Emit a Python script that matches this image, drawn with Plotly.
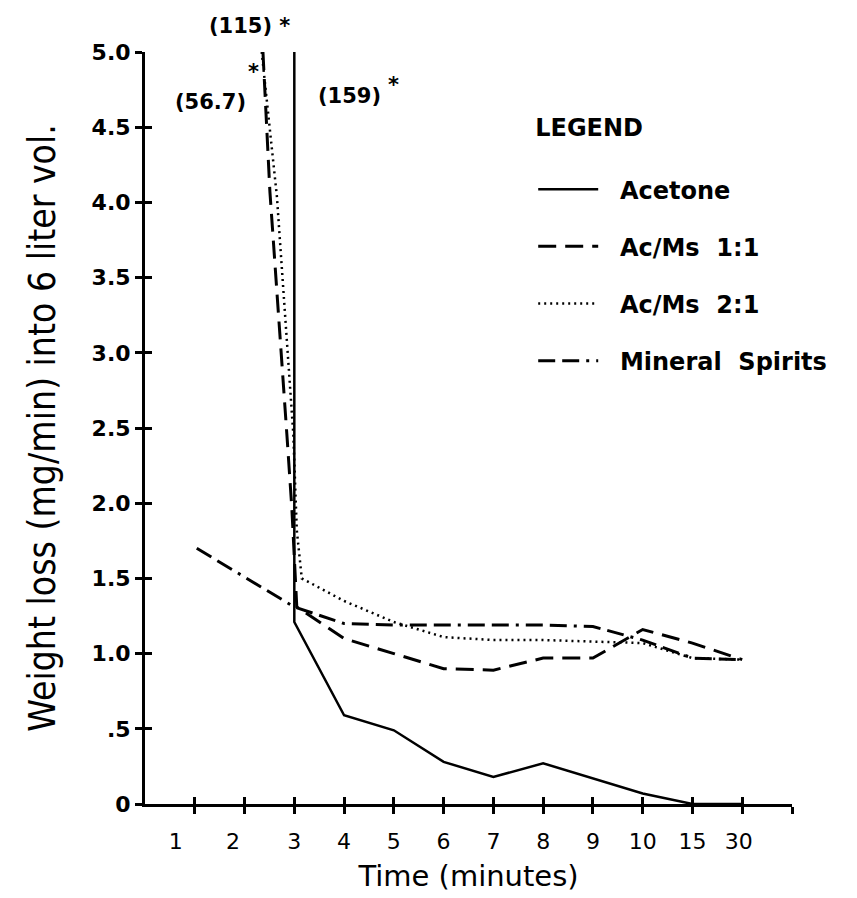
import plotly.graph_objects as go

# ---------------- data ----------------
# x positions are category indices of the time axis: 1 -> "1", ..., 11 -> "15", 12 -> "30"
time_labels = ["1", "2", "3", "4", "5", "6", "7", "8", "9", "10", "15", "30"]

acetone_x = [3, 3, 4, 5, 6, 7, 8, 9, 10, 11, 12]
acetone_y = [159, 1.21, 0.59, 0.49, 0.28, 0.18, 0.27, 0.17, 0.07, 0.0, 0.0]

acms11_x = [2.37, 2.51, 2.85, 2.95, 3.05, 4, 5, 6, 7, 8, 9, 10, 11, 12]
acms11_y = [5.0, 4.07, 2.46, 1.97, 1.31, 1.1, 1.0, 0.9, 0.89, 0.97, 0.97, 1.16, 1.07, 0.96]

acms21_x = [2.345, 2.65, 2.98, 3.05, 3.15, 4, 5, 6, 7, 8, 9, 10, 11, 12]
acms21_y = [5.0, 4.04, 2.46, 1.82, 1.5, 1.35, 1.21, 1.11, 1.09, 1.09, 1.08, 1.07, 0.97, 0.96]

ms_x = [1.04, 2, 3, 4, 5, 6, 7, 8, 9, 10, 11, 12]
ms_y = [1.7, 1.51, 1.31, 1.2, 1.19, 1.19, 1.19, 1.19, 1.18, 1.09, 0.97, 0.96]

y_tick_vals = [0, 0.5, 1.0, 1.5, 2.0, 2.5, 3.0, 3.5, 4.0, 4.5, 5.0]
y_tick_text = ["0", ".5", "1.0", "1.5", "2.0", "2.5", "3.0", "3.5", "4.0", "4.5", "5.0"]

# ---------------- styling ----------------
label_shift = [-0.38, -0.23, 0, 0, 0, 0, 0, 0, 0, 0, 0, -0.07]
tick_positions = list(range(1, len(time_labels) + 2))
label_positions = [i + 1 + s for i, s in enumerate(label_shift)]

GEO = "DejaVu Sans"
NARROW = "DejaVu Sans Condensed, Liberation Sans, sans-serif"
PAD = "\u00a0\u00a0"

fig = go.Figure()

fig.add_trace(go.Scatter(x=acetone_x, y=acetone_y, mode="lines", name=PAD + "Acetone",
                         legendgroup="a", line=dict(color="black", width=2.5)))
fig.add_trace(go.Scatter(x=acms11_x, y=acms11_y, mode="lines",
                         name=PAD + "Ac/Ms\u00a0\u00a01:1",
                         legendgroup="b", line=dict(color="black", width=3, dash="18px,9px")))
fig.add_trace(go.Scatter(x=acms21_x, y=acms21_y, mode="lines",
                         name=PAD + "Ac/Ms\u00a0\u00a02:1",
                         legendgroup="c", line=dict(color="black", width=2.5, dash="2px,4px")))
fig.add_trace(go.Scatter(x=ms_x, y=ms_y, mode="lines",
                         name=PAD + "Mineral\u00a0\u00a0Spirits",
                         legendgroup="d",
                         line=dict(color="black", width=3, dash="17px,7px,17px,7px,3px,7px")))

# helper traces so that the overlay axes (inner tick marks, tick labels) are drawn
fig.add_trace(go.Scatter(x=[None], y=[None], xaxis="x2", yaxis="y2", showlegend=False,
                         hoverinfo="skip"))
fig.add_trace(go.Scatter(x=[None], y=[None], xaxis="x3", yaxis="y", showlegend=False,
                         hoverinfo="skip"))

axis_common = dict(showgrid=False, zeroline=False, tickcolor="black", tickwidth=2.5)

fig.update_layout(
    width=857, height=898,
    margin=dict(l=145, r=65, t=52, b=90),
    paper_bgcolor="white", plot_bgcolor="white",
    showlegend=True,
    xaxis=dict(range=[0, 13], tickmode="array", tickvals=tick_positions,
               ticks="outside", ticklen=7, showticklabels=False,
               showline=True, linecolor="black", linewidth=3, **axis_common),
    xaxis2=dict(range=[0, 13], overlaying="x", anchor="y", side="bottom",
                tickmode="array", tickvals=tick_positions, ticks="inside", ticklen=7,
                showticklabels=False, showline=False, **axis_common),
    xaxis3=dict(range=[0, 13], overlaying="x", anchor="y", side="bottom",
                tickmode="array", tickvals=label_positions, ticktext=time_labels,
                ticks="", showline=False, ticklabelstandoff=22,
                tickfont=dict(family=GEO, size=22, color="black"),
                title=dict(text="Time (minutes)", standoff=12,
                           font=dict(family=GEO, size=29, color="black")),
                **axis_common),
    yaxis=dict(range=[0, 5], tickmode="array", tickvals=y_tick_vals, ticktext=y_tick_text,
               ticks="outside", ticklen=7, ticklabelstandoff=0,
               tickfont=dict(family=GEO, size=22, color="black", weight="bold"),
               showline=True, linecolor="black", linewidth=3,
               title=dict(text="Weight loss (mg/min) into 6 liter vol.", standoff=25,
                          font=dict(family=NARROW, size=37, color="black")),
               **axis_common),
    yaxis2=dict(range=[0, 5], overlaying="y", anchor="x", side="left",
                tickmode="array", tickvals=y_tick_vals[1:], ticks="inside", ticklen=7,
                showticklabels=False, showline=False, **axis_common),
    legend=dict(x=0.6, xanchor="left", y=0.93, yanchor="top",
                bgcolor="rgba(0,0,0,0)", borderwidth=0,
                title=dict(text="LEGEND<br>\u00a0",
                           font=dict(family=GEO, size=24, color="black", weight="bold")),
                font=dict(family=GEO, size=24, color="black", weight="bold"),
                tracegroupgap=23, itemwidth=60),
)

ann_font = dict(family=GEO, size=21, color="black", weight="bold")
fig.add_annotation(xref="paper", yref="paper", x=0.0958, y=1.034, text="(115)\u00a0*",
                   showarrow=False, xanchor="left", yanchor="middle", font=ann_font)
fig.add_annotation(x=0.563, y=4.669, text="(56.7)", showarrow=False,
                   xanchor="left", yanchor="middle", font=ann_font)
fig.add_annotation(x=2.17, y=4.868, text="*", showarrow=False,
                   xanchor="center", yanchor="middle", font=ann_font)
fig.add_annotation(x=3.436, y=4.709, text="(159)", showarrow=False,
                   xanchor="left", yanchor="middle", font=ann_font)
fig.add_annotation(x=4.983, y=4.782, text="*", showarrow=False,
                   xanchor="center", yanchor="middle", font=ann_font)

fig.write_html("out.html")
